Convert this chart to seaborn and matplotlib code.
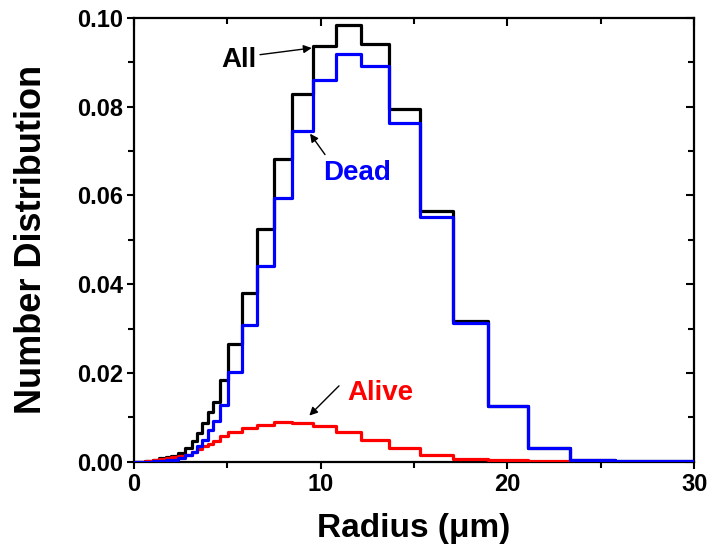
import matplotlib
matplotlib.use("Agg")
import matplotlib.pyplot as plt
from matplotlib.ticker import MultipleLocator
import numpy as np
import pandas as pd
import seaborn as sns

# Bin edges of the radius histogram (µm)
edges = [0.0, 0.6, 1.0, 1.35, 1.7, 2.0, 2.36, 2.73, 3.09, 3.36, 3.63, 3.98,
         4.25, 4.61, 5.05, 5.77, 6.57, 7.50, 8.46, 9.59, 10.82, 12.16, 13.66,
         15.32, 17.09, 18.96, 21.10, 23.35, 25.76, 30.0]

# Number distribution per bin
all_cells = [0.0, 0.0002, 0.0005, 0.0008, 0.0011, 0.0014, 0.0019, 0.0030,
             0.0046, 0.0064, 0.0087, 0.0113, 0.0135, 0.0184, 0.0265, 0.0380,
             0.0524, 0.0683, 0.0829, 0.0936, 0.0983, 0.0940, 0.0795, 0.0565,
             0.0318, 0.0126, 0.0030, 0.0005, 0.0001]
dead_cells = [0.0, 0.0, 0.0001, 0.0002, 0.0003, 0.0005, 0.0008, 0.0015,
              0.0023, 0.0035, 0.0049, 0.0072, 0.0091, 0.0128, 0.0202, 0.0307,
              0.0441, 0.0594, 0.0744, 0.0859, 0.0919, 0.0892, 0.0763, 0.0551,
              0.0313, 0.0126, 0.0030, 0.0005, 0.0001]
alive_cells = [0.0, 0.0002, 0.0004, 0.0006, 0.0008, 0.0010, 0.0012, 0.0016,
               0.0021, 0.0028, 0.0036, 0.0041, 0.0046, 0.0057, 0.0066, 0.0076,
               0.0083, 0.0089, 0.0087, 0.0081, 0.0066, 0.0049, 0.0031, 0.0015,
               0.0007, 0.0004, 0.0002, 0.0001, 0.0]

x_ticks = [0, 10, 20, 30]
y_ticks = [0.00, 0.02, 0.04, 0.06, 0.08, 0.10]

sns.set_theme(style="ticks")
plt.rcParams["font.family"] = ["Liberation Sans", "DejaVu Sans"]
plt.rcParams["font.weight"] = "bold"
plt.rcParams["text.color"] = "black"
plt.rcParams["axes.labelcolor"] = "black"
plt.rcParams["xtick.color"] = "black"
plt.rcParams["ytick.color"] = "black"

fig = plt.figure(figsize=(7.09, 5.57), dpi=100)
ax = fig.add_axes([0.189, 0.171, 0.790, 0.797])


def step_frame(values):
    # repeat the last value so the final bin reaches its right edge
    return pd.DataFrame({"r": edges, "n": list(values) + [values[-1]]})


series = [
    (all_cells, "black", 2),
    (alive_cells, "#ff0000", 3),
    (dead_cells, "#0000ff", 4),
]
for vals, color, z in series:
    sns.lineplot(data=step_frame(vals), x="r", y="n", ax=ax, color=color,
                 estimator=None, sort=False, drawstyle="steps-post",
                 linewidth=2.3, zorder=z)

ax.set_xlim(0, 30)
ax.set_ylim(0, 0.10)
ax.set_xticks(x_ticks)
ax.set_yticks(y_ticks)
ax.set_xticklabels([str(v) for v in x_ticks])
ax.set_yticklabels([f"{v:.2f}" for v in y_ticks])
ax.xaxis.set_minor_locator(MultipleLocator(5))
ax.yaxis.set_minor_locator(MultipleLocator(0.01))

for side in ["left", "right", "top", "bottom"]:
    ax.spines[side].set_visible(True)
    ax.spines[side].set_linewidth(1.6)
    ax.spines[side].set_color("black")

ax.tick_params(which="both", direction="out", colors="black", width=1.5,
               labelsize=17, pad=3)
ax.tick_params(which="major", length=5)
ax.tick_params(which="minor", length=4)
for lab in ax.get_xticklabels() + ax.get_yticklabels():
    lab.set_fontweight("bold")
    lab.set_color("black")

# inward ticks on the top and right sides
ax_top = ax.secondary_xaxis("top")
ax_top.set_xticks(x_ticks)
ax_top.xaxis.set_minor_locator(MultipleLocator(5))
ax_top.tick_params(which="both", direction="in", labeltop=False, width=1.5,
                   colors="black")
ax_top.tick_params(which="major", length=6)
ax_top.tick_params(which="minor", length=4)
ax_right = ax.secondary_yaxis("right")
ax_right.set_yticks(y_ticks)
ax_right.yaxis.set_minor_locator(MultipleLocator(0.01))
ax_right.tick_params(which="both", direction="in", labelright=False, width=1.5,
                     colors="black")
ax_right.tick_params(which="major", length=6)
ax_right.tick_params(which="minor", length=4)
ax.tick_params(top=False, right=False, which="both")

ax.set_xlabel("Radius (\u03bcm)", fontsize=24, fontweight="bold",
              color="black", labelpad=12)
ax.set_ylabel("Number Distribution", fontsize=26, fontweight="bold",
              color="black", labelpad=20)

arrow = dict(arrowstyle="-|>", color="black", lw=1.0, mutation_scale=12,
             shrinkA=0, shrinkB=0)
ax.annotate("", xy=(9.52, 0.0932), xytext=(6.75, 0.0917), arrowprops=arrow)
ax.text(5.62, 0.0905, "All", color="black", fontsize=20, fontweight="bold",
        ha="center", va="center")
ax.annotate("", xy=(9.43, 0.0739), xytext=(10.23, 0.0692), arrowprops=arrow)
ax.text(11.97, 0.0650, "Dead", color="#0000ff", fontsize=20, fontweight="bold",
        ha="center", va="center")
ax.annotate("", xy=(9.39, 0.0104), xytext=(10.98, 0.0171), arrowprops=arrow)
ax.text(13.18, 0.0155, "Alive", color="#ff0000", fontsize=20, fontweight="bold",
        ha="center", va="center")

fig.savefig("out.png", dpi=100)
